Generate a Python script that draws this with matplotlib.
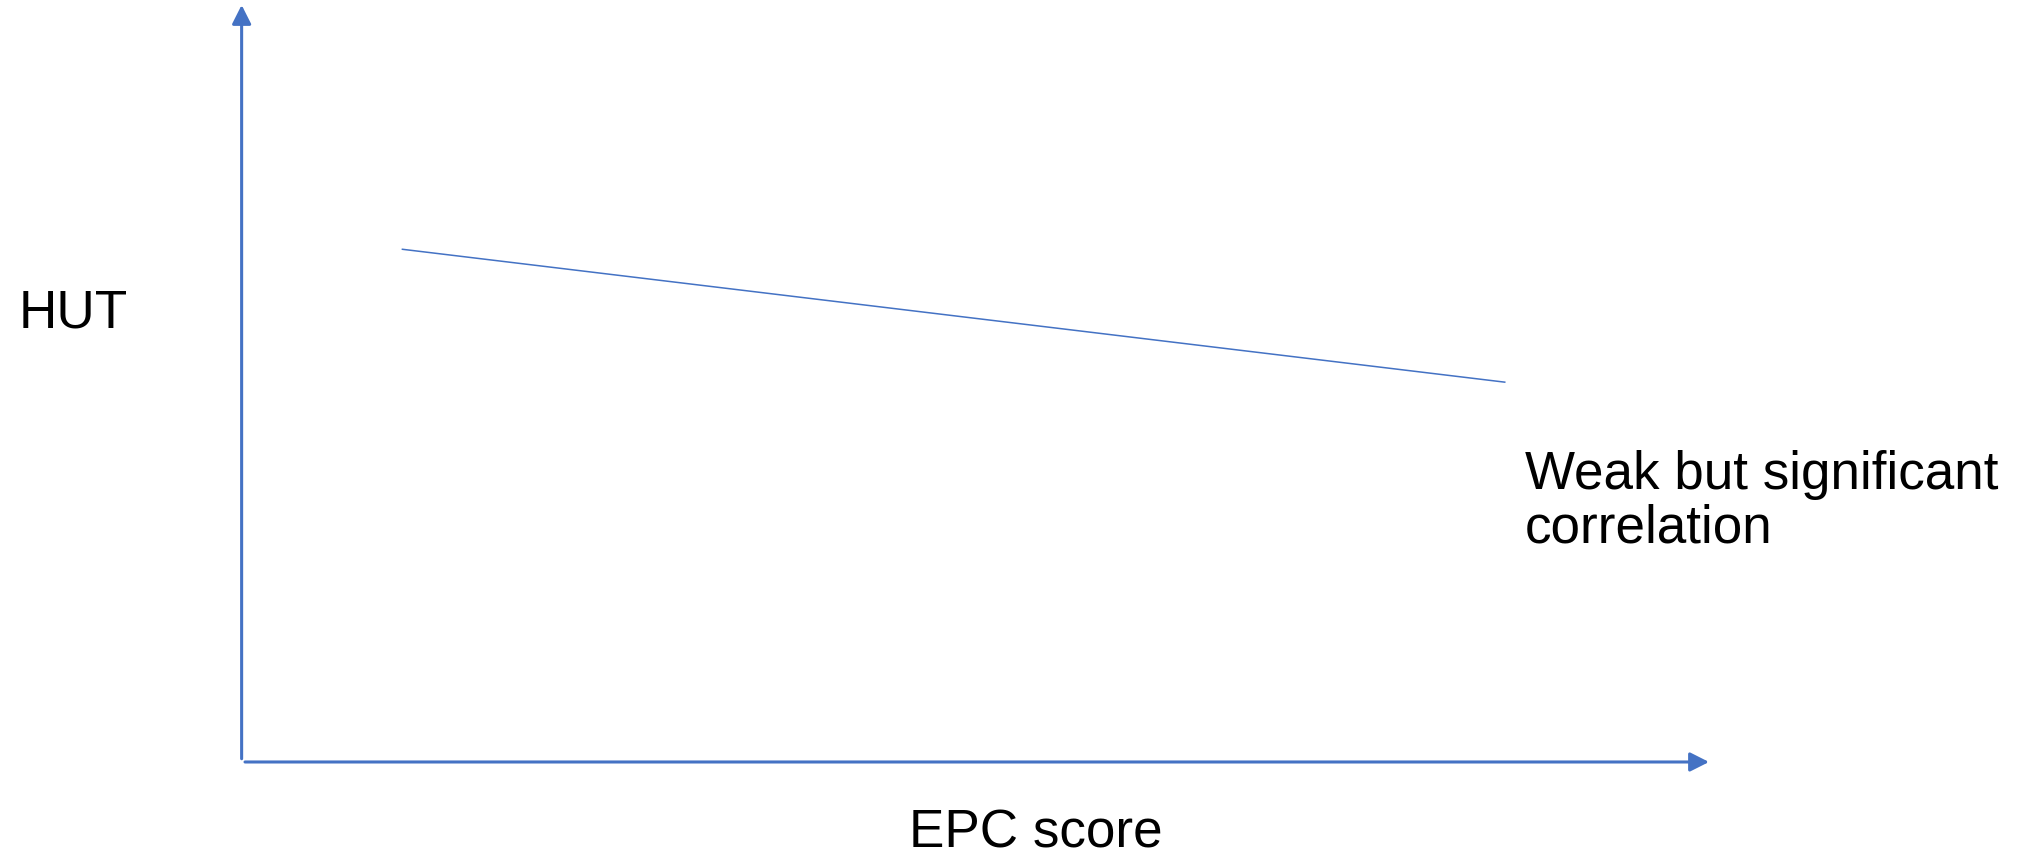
import matplotlib.pyplot as plt

# trend of HUT against EPC score (arbitrary 0-100 units, no ticks shown)
epc_score = [10.7, 86.1]
hut_trend = [67.7, 50.1]

x_label = "EPC score"
y_label = "HUT"
note = "Weak but significant\ncorrelation"

blue = "#4472C4"
plt.rcParams['font.family'] = ['Liberation Sans', 'DejaVu Sans']

W, H = 2023, 857
fig = plt.figure(figsize=(W / 100, H / 100), dpi=100)
ax = fig.add_axes([245 / W, (H - 761) / H, (1709 - 245) / W, (761 - 5) / H])
ax.set_xlim(0, 100)
ax.set_ylim(0, 100)
ax.axis('off')

ax.plot(epc_score, hut_trend, color=blue, lw=1.1, solid_capstyle='butt')

# axis arrows
arrow = dict(arrowstyle='-|>,head_length=1.15,head_width=0.58', lw=2.2,
             color=blue, mutation_scale=10, shrinkA=0, shrinkB=0)
ax.annotate('', xy=(-0.0023, 1.0), xytext=(-0.0023, 0.003),
            xycoords='axes fraction', textcoords='axes fraction',
            arrowprops=arrow, annotation_clip=False)
ax.annotate('', xy=(1.0, -0.0013), xytext=(0.0, -0.0013),
            xycoords='axes fraction', textcoords='axes fraction',
            arrowprops=arrow, annotation_clip=False)

fs = 38.2
fig.text(19 / W, 1 - 314 / H, y_label, fontsize=fs, ha='left', va='center')
fig.text(1036 / W, 1 - 848 / H, x_label, fontsize=fs, ha='center', va='baseline')
fig.text(1525 / W, 1 - 450 / H, note, fontsize=fs, ha='left', va='top',
         linespacing=1.1)

fig.savefig('out.png', dpi=100)
